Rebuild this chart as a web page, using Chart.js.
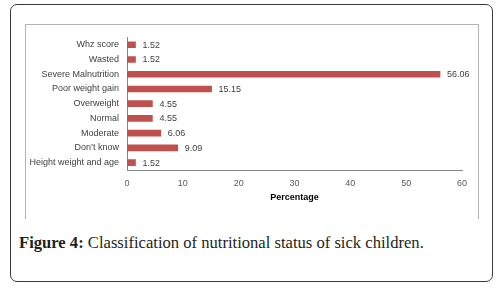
<!DOCTYPE html>
<html>
<head>
<meta charset="utf-8">
<script src="https://cdn.jsdelivr.net/npm/chart.js@4/dist/chart.umd.min.js"></script>
<style>
  html, body { margin: 0; padding: 0; background: #fff; }
  body { width: 504px; height: 289px; position: relative; overflow: hidden; }
  #frame {
    position: absolute; left: 10px; top: 4px; width: 481px; height: 276px;
    border: 1.5px solid #3a3a3a; border-radius: 7px;
  }
  #plotbox {
    position: absolute; left: 25px; top: 24px; width: 452px; height: 194px;
    border: 1px solid #b4b4b4; border-bottom: none;
  }
  #wrap { position: absolute; left: 25px; top: 24px; width: 453px; height: 193px; }
  #caption {
    position: absolute; left: 19px; top: 233px; white-space: nowrap;
    font-family: "Liberation Serif", "DejaVu Serif", serif; font-size: 16.6px; color: #231f20;
  }
  #caption b { font-weight: bold; }
</style>
</head>
<body>
<div id="frame"></div>
<div id="plotbox"></div>
<div id="wrap"><canvas id="js-chartjs-status"></canvas></div>
<div id="caption"><b>Figure 4:</b> Classification of nutritional status of sick children.</div>
<script>
// Chart data
const categories = ['Whz score', 'Wasted', 'Severe Malnutrition', 'Poor weight gain', 'Overweight',
  'Normal', 'Moderate', 'Don\u2019t know', 'Height weight and age'];
const percentages = [1.52, 1.52, 56.06, 15.15, 4.55, 4.55, 6.06, 9.09, 1.52];
const xTicks = [0, 10, 20, 30, 40, 50, 60];

const labelFont = {family: '"Liberation Sans", Arial, sans-serif', size: 9};

// value labels at the end of each bar
const barValues = {
  id: 'barValues',
  afterDatasetsDraw(chart) {
    const ctx = chart.ctx;
    const meta = chart.getDatasetMeta(0);
    ctx.save();
    ctx.font = '9px "Liberation Sans", Arial, sans-serif';
    ctx.fillStyle = '#404040';
    ctx.textAlign = 'left';
    ctx.textBaseline = 'middle';
    meta.data.forEach((bar, i) => {
      ctx.fillText(percentages[i].toFixed(2), bar.x + 7, bar.y + 0.5);
    });
    ctx.restore();
  }
};

let chartCon = document.getElementById('js-chartjs-status');

let chartData = {
  labels: categories,
  datasets: [{
    data: percentages,
    backgroundColor: '#c0504d',
    borderWidth: 0,
    barThickness: 6
  }]
};

let chartOptions = {
  indexAxis: 'y',
  responsive: true,
  maintainAspectRatio: false,
  animation: false,
  layout: {padding: {top: 9, right: 16, bottom: 0, left: 0}},
  scales: {
    x: {
      min: 0,
      max: 60,
      afterBuildTicks: (scale) => { scale.ticks = xTicks.map(v => ({value: v})); },
      afterFit: (scale) => { scale.height = 47; },
      grid: {display: false, drawTicks: false},
      border: {display: true, color: '#868686', width: 1},
      ticks: {color: '#595959', font: labelFont, padding: 8},
      title: {
        display: true,
        text: 'Percentage',
        color: '#000',
        font: {family: '"Liberation Sans", Arial, sans-serif', size: 9, weight: 'bold'},
        padding: {top: 0, bottom: 14}
      }
    },
    y: {
      afterFit: (scale) => { scale.width = 102; },
      grid: {display: false, drawTicks: false},
      border: {display: true, color: '#868686', width: 1},
      ticks: {color: '#404040', font: labelFont, padding: 8}
    }
  },
  plugins: {
    legend: {display: false},
    tooltip: {enabled: false}
  }
};

if (chartCon !== null) {
  new Chart(chartCon, {type: 'bar', data: chartData, options: chartOptions, plugins: [barValues]});
}
</script>
</body>
</html>
